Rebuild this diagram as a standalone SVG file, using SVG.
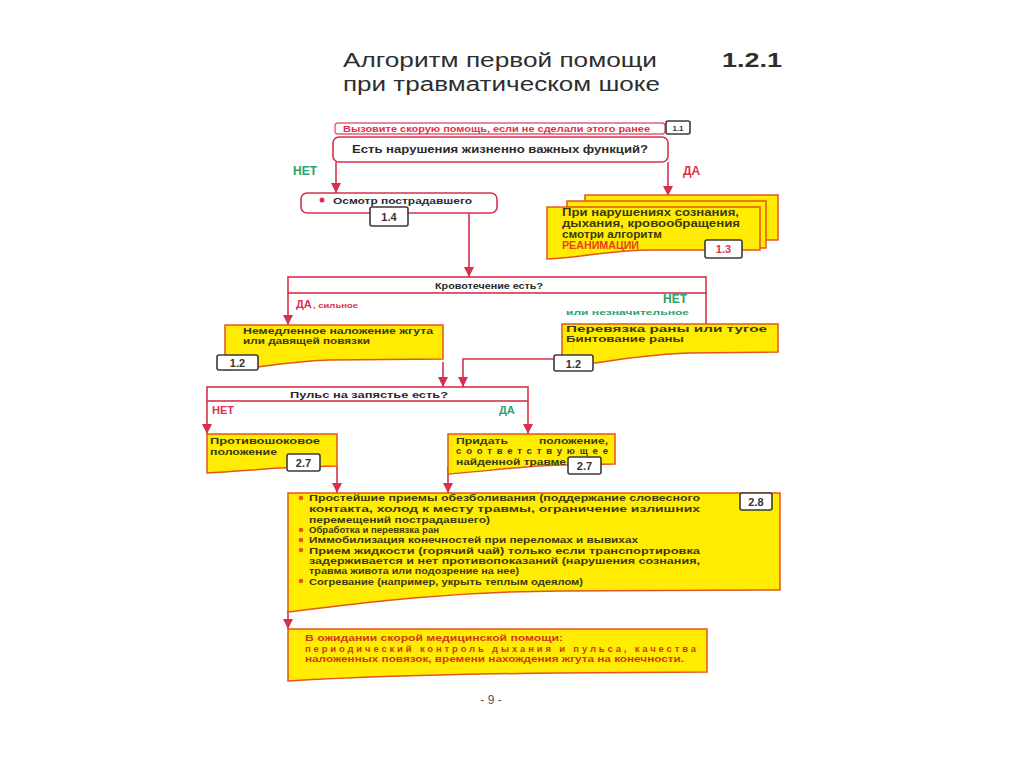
<svg xmlns="http://www.w3.org/2000/svg" width="1024" height="767" viewBox="0 0 1024 767">
<defs>
<style>
text{font-family:"Liberation Sans",Arial,sans-serif}
.title{font-size:20px;fill:#2e2e2e}
.num{font-size:20px;font-weight:bold;fill:#2e2e2e}
.ln{fill:none;stroke:#d8304c;stroke-width:1.6}
.wbox{fill:#fff;stroke:#d8304c;stroke-width:1.6}
.ybox{fill:#ffec00;stroke:#e2561f;stroke-width:1.5}
.lbl{fill:#fff;stroke:#3a3a3a;stroke-width:1.6}
.lt{font-size:11px;font-weight:bold;fill:#333;text-anchor:middle}
.bt{font-size:9.5px;font-weight:bold;fill:#2a2a2a}
.yt{font-size:9.5px;font-weight:bold;fill:#3b3a14}
.red{fill:#e0304a}
.grn{fill:#2aa36b}
.rt{font-size:9.5px;font-weight:bold;fill:#d2381c}
</style>
<marker id="ah" viewBox="0 0 10 10" refX="10" refY="5" markerWidth="10" markerHeight="10" markerUnits="userSpaceOnUse" orient="auto">
<path d="M0,0 L10,5 L0,10 Z" fill="#d8304c"/>
</marker>
</defs>
<rect width="1024" height="767" fill="#fff"/>

<g id="title">
<text class="title" x="343" y="67" textLength="314" lengthAdjust="spacingAndGlyphs">Алгоритм первой помощи</text>
<text class="title" x="343" y="91" textLength="317" lengthAdjust="spacingAndGlyphs">при травматическом шоке</text>
<text class="num" x="722" y="67" textLength="60" lengthAdjust="spacingAndGlyphs">1.2.1</text>
</g>

<g id="connectors">
<path class="ln" d="M336,162 V193" marker-end="url(#ah)"/>
<path class="ln" d="M668,162 V196" marker-end="url(#ah)"/>
<path class="ln" d="M469,213 V277" marker-end="url(#ah)"/>
<path class="ln" d="M288,293 V325" marker-end="url(#ah)"/>
<path class="ln" d="M706,293 V325"/>
<path class="ln" d="M443,362 V387" marker-end="url(#ah)"/>
<path class="ln" d="M555,359 H463 V387" marker-end="url(#ah)"/>
<path class="ln" d="M207,401 V434" marker-end="url(#ah)"/>
<path class="ln" d="M528,401 V434" marker-end="url(#ah)"/>
<path class="ln" d="M337,466 V493" marker-end="url(#ah)"/>
<path class="ln" d="M448,466 V493" marker-end="url(#ah)"/>
<path class="ln" d="M288,610 V629" marker-end="url(#ah)"/>
</g>

<g id="call">
<rect x="335" y="123" width="330" height="11" rx="3" fill="#fff" stroke="#e0607a" stroke-width="1.4"/>
<text x="343" y="131.5" textLength="307" lengthAdjust="spacingAndGlyphs" style="font-size:8.5px;font-weight:bold;fill:#e0304a">Вызовите скорую помощь, если не сделали этого ранее</text>
<rect class="lbl" x="666" y="121" width="24" height="13" rx="2"/>
<text class="lt" x="678" y="131" style="font-size:8px">1.1</text>
</g>

<g id="vital">
<rect class="wbox" x="333" y="137" width="335" height="25" rx="6"/>
<text class="bt" x="352" y="153" textLength="296" lengthAdjust="spacingAndGlyphs" style="font-size:10.5px">Есть нарушения жизненно важных функций?</text>
<text x="293" y="175" style="font-size:12px;font-weight:bold" class="grn">НЕТ</text>
<text x="683" y="175" style="font-size:12px;font-weight:bold" class="red">ДА</text>
</g>

<g id="exam">
<rect class="wbox" x="301" y="193" width="196" height="20" rx="6"/>
<circle cx="322" cy="200" r="2.5" fill="#e0304a"/>
<text class="bt" x="333" y="204" textLength="139" lengthAdjust="spacingAndGlyphs" style="font-size:9.5px">Осмотр пострадавшего</text>
<rect class="lbl" x="370" y="207" width="38" height="19" rx="2"/>
<text class="lt" x="389" y="221">1.4</text>
</g>

<g id="reanim">
<rect class="ybox" x="585" y="195" width="193" height="45"/>
<rect class="ybox" x="567" y="201" width="199" height="47"/>
<path class="ybox" d="M547,207 H760 V250 L650,250 C610,250 580,258 547,259 Z"/>
<text class="yt" x="562" y="216" textLength="177" lengthAdjust="spacingAndGlyphs" style="font-size:10.5px">При нарушениях сознания,</text>
<text class="yt" x="562" y="227" textLength="178" lengthAdjust="spacingAndGlyphs" style="font-size:10.5px">дыхания, кровообращения</text>
<text class="yt" x="562" y="238" textLength="100" lengthAdjust="spacingAndGlyphs" style="font-size:10.5px">смотри алгоритм</text>
<text x="562" y="249" textLength="77" lengthAdjust="spacingAndGlyphs" style="font-size:10.5px;font-weight:bold;fill:#e8401c">РЕАНИМАЦИИ</text>
<rect class="lbl" x="705" y="240" width="37" height="18" rx="2"/>
<text class="lt" x="723.5" y="253" style="fill:#e0304a">1.3</text>
</g>

<g id="bleed">
<rect class="wbox" x="288" y="277" width="418" height="16"/>
<text class="bt" x="435" y="288.5" textLength="108" lengthAdjust="spacingAndGlyphs" style="font-size:9px">Кровотечение есть?</text>
<text x="296" y="308" style="font-size:11px;font-weight:bold" class="red">ДА</text>
<text x="313" y="308" style="font-size:8px;font-weight:bold" class="red" textLength="45" lengthAdjust="spacingAndGlyphs">, сильное</text>
<text x="663" y="303" style="font-size:12px;font-weight:bold" class="grn">НЕТ</text>
<text x="566" y="315" style="font-size:8px;font-weight:bold" class="grn" textLength="123" lengthAdjust="spacingAndGlyphs">или незначительное</text>
</g>

<g id="tourniquet">
<path class="ybox" d="M225,325 H443 V359 L330,360 C290,361 260,368 225,370 Z"/>
<text class="yt" x="243" y="334" textLength="190" lengthAdjust="spacingAndGlyphs">Немедленное наложение жгута</text>
<text class="yt" x="243" y="344" textLength="127" lengthAdjust="spacingAndGlyphs">или давящей повязки</text>
<rect class="lbl" x="217" y="355" width="41" height="15" rx="2"/>
<text class="lt" x="237.5" y="366.5">1.2</text>
</g>

<g id="bandage">
<path class="ybox" d="M562,324 H778 V352 L690,353 C640,354 600,364 562,366 Z"/>
<text class="yt" x="566" y="332" textLength="201" lengthAdjust="spacingAndGlyphs">Перевязка раны или тугое</text>
<text class="yt" x="566" y="342" textLength="118" lengthAdjust="spacingAndGlyphs">Бинтование раны</text>
<rect class="lbl" x="554" y="355" width="39" height="16" rx="2"/>
<text class="lt" x="573.5" y="367.5">1.2</text>
</g>

<g id="pulse">
<rect class="wbox" x="207" y="387" width="321" height="14"/>
<text class="bt" x="290" y="397.5" textLength="158" lengthAdjust="spacingAndGlyphs" style="font-size:9px">Пульс на запястье есть?</text>
<text x="212" y="414" style="font-size:11px;font-weight:bold" class="red">НЕТ</text>
<text x="499" y="414" style="font-size:11px;font-weight:bold" class="grn">ДА</text>
</g>

<g id="antishock">
<path class="ybox" d="M207,434 H337 V466 L300,467 C270,468 235,472 207,473 Z"/>
<text class="yt" x="210" y="444" textLength="110" lengthAdjust="spacingAndGlyphs">Противошоковое</text>
<text class="yt" x="210" y="455" textLength="67" lengthAdjust="spacingAndGlyphs">положение</text>
<rect class="lbl" x="287" y="454" width="33" height="17" rx="2"/>
<text class="lt" x="303.5" y="467">2.7</text>
</g>

<g id="position">
<path class="ybox" d="M448,434 H615 V464 L560,465 C520,466 480,472 448,474 Z"/>
<text class="yt" x="456" y="444"><tspan textLength="52" lengthAdjust="spacingAndGlyphs">Придать</tspan><tspan x="539" textLength="69" lengthAdjust="spacingAndGlyphs">положение,</tspan></text>
<text class="yt" x="456" y="454" textLength="152">соответствующее</text>
<text class="yt" x="456" y="465" textLength="110" lengthAdjust="spacingAndGlyphs">найденной травме</text>
<rect class="lbl" x="568" y="457" width="33" height="17" rx="2"/>
<text class="lt" x="584.5" y="470">2.7</text>
</g>

<g id="care">
<path class="ybox" d="M288,493 H780 V590 L560,591 C430,592 340,606 288,612 Z"/>
<rect class="lbl" x="740" y="493" width="32" height="17" rx="2"/>
<text class="lt" x="756" y="506">2.8</text>
<g fill="#e8541e">
<circle cx="301" cy="498" r="2.3"/>
<circle cx="301" cy="530" r="2.3"/>
<circle cx="301" cy="540" r="2.3"/>
<circle cx="301" cy="550" r="2.3"/>
<circle cx="301" cy="581" r="2.3"/>
</g>
<text class="yt" x="309" y="501" textLength="391" lengthAdjust="spacingAndGlyphs">Простейшие приемы обезболивания (поддержание словесного</text>
<text class="yt" x="309" y="512" textLength="391" lengthAdjust="spacingAndGlyphs">контакта, холод к месту травмы, ограничение излишних</text>
<text class="yt" x="309" y="523" textLength="181" lengthAdjust="spacingAndGlyphs">перемещений пострадавшего)</text>
<text class="yt" x="309" y="533" textLength="130" lengthAdjust="spacingAndGlyphs">Обработка и перевязка ран</text>
<text class="yt" x="309" y="543" textLength="329" lengthAdjust="spacingAndGlyphs">Иммобилизация конечностей при переломах и вывихах</text>
<text class="yt" x="309" y="554" textLength="391" lengthAdjust="spacingAndGlyphs">Прием жидкости (горячий чай) только если транспортировка</text>
<text class="yt" x="309" y="564" textLength="391" lengthAdjust="spacingAndGlyphs">задерживается и нет противопоказаний (нарушения сознания,</text>
<text class="yt" x="309" y="574" textLength="210" lengthAdjust="spacingAndGlyphs">травма живота или подозрение на нее)</text>
<text class="yt" x="309" y="585" textLength="274" lengthAdjust="spacingAndGlyphs">Согревание (например, укрыть теплым одеялом)</text>
</g>

<g id="wait">
<path class="ybox" d="M288,629 H707 V672 L560,673 C450,674 340,678 288,681 Z"/>
<text class="rt" x="305" y="641" textLength="258" lengthAdjust="spacingAndGlyphs">В ожидании скорой медицинской помощи:</text>
<text class="rt" x="305" y="652" textLength="391">периодический контроль дыхания и пульса, качества</text>
<text class="rt" x="305" y="662" textLength="379" lengthAdjust="spacingAndGlyphs">наложенных повязок, времени нахождения жгута на конечности.</text>
</g>

<text x="491" y="704" style="font-size:12px;fill:#555;text-anchor:middle">- 9 -</text>
</svg>
